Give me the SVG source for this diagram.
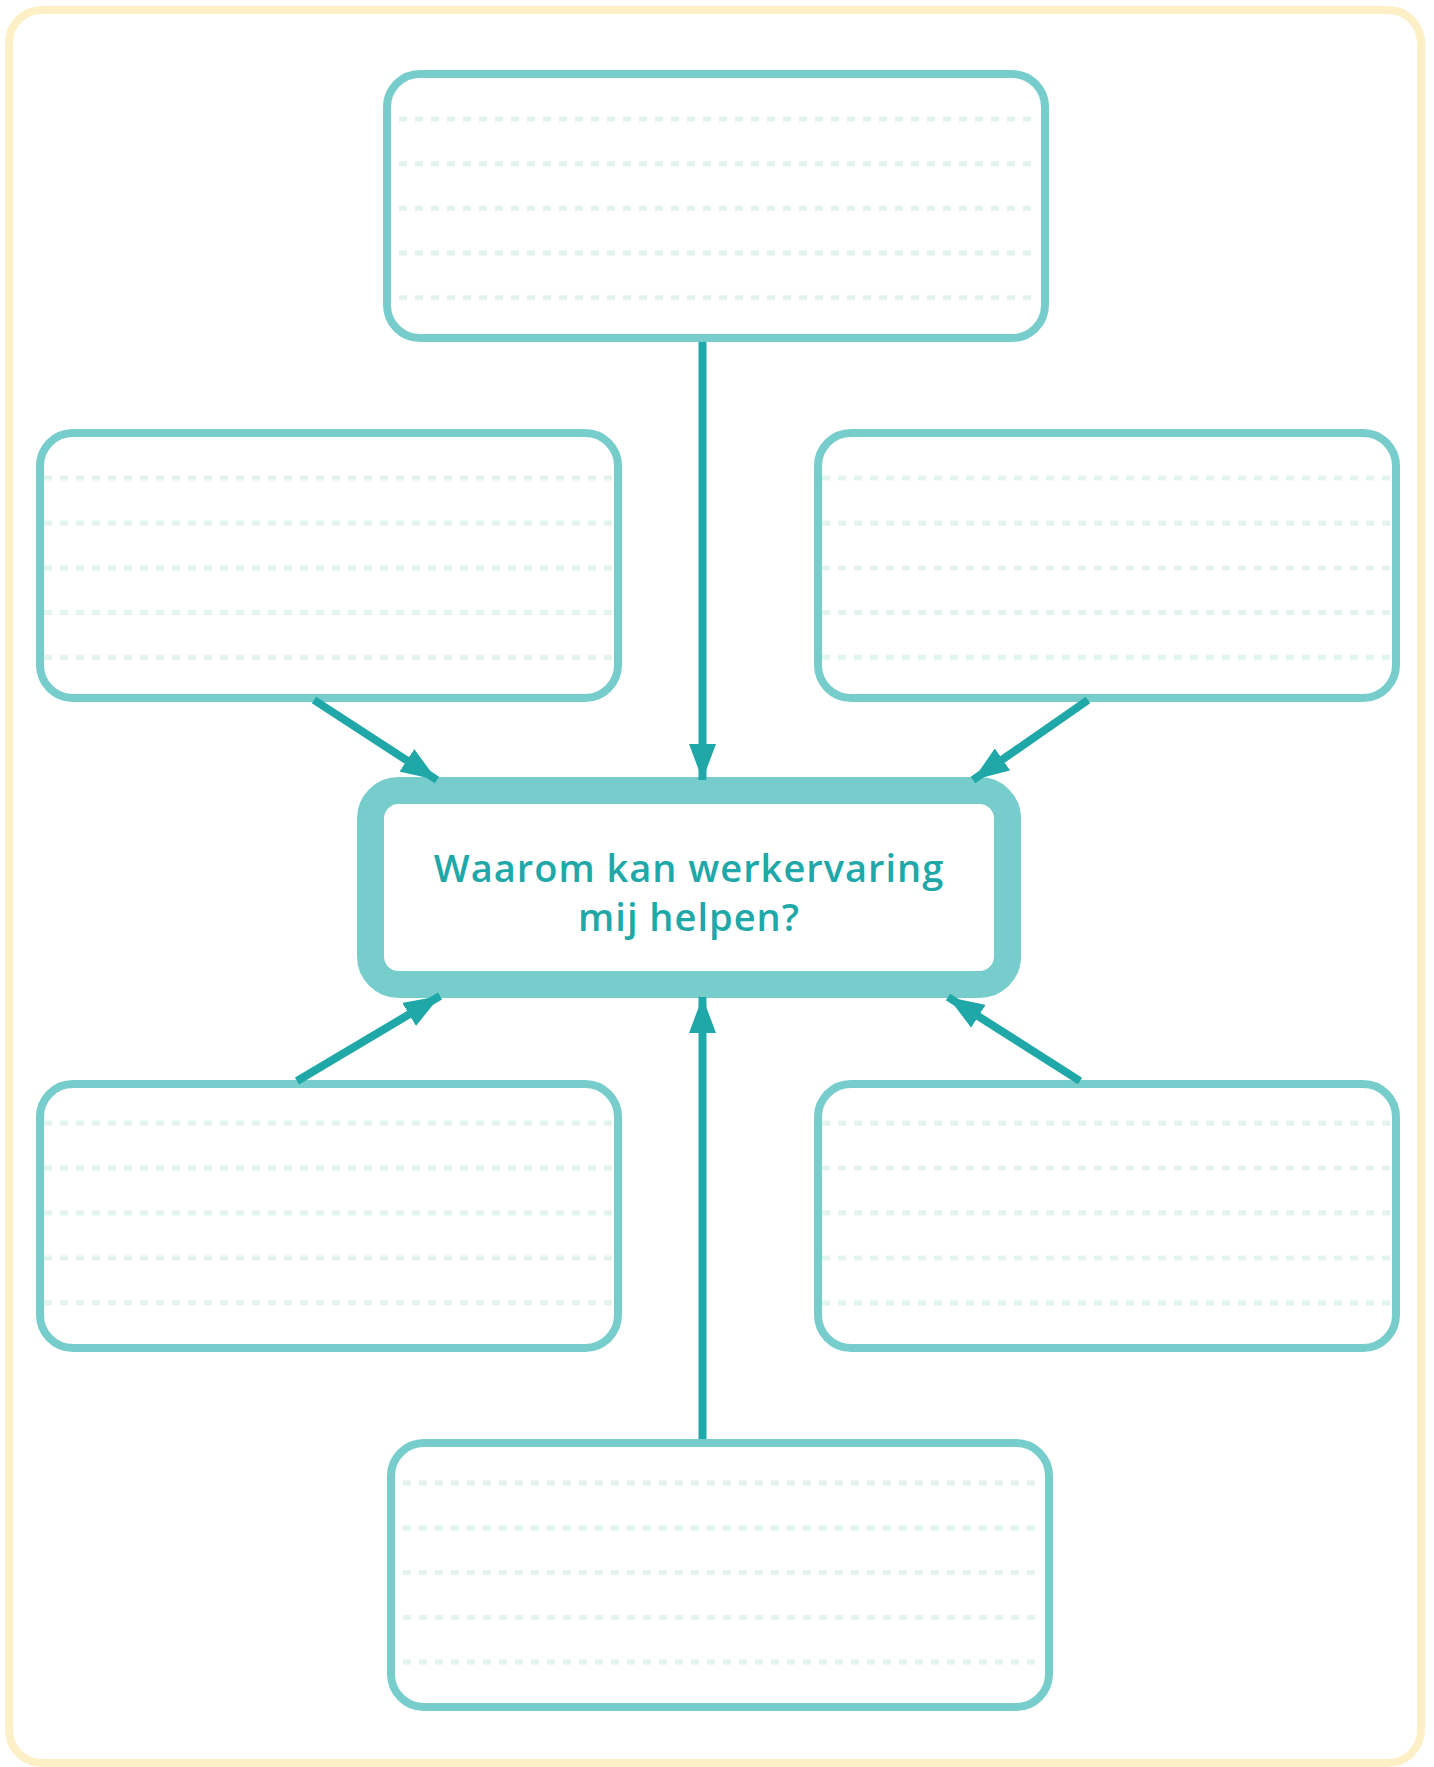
<svg xmlns="http://www.w3.org/2000/svg" width="1434" height="1767" viewBox="0 0 1434 1767">
<defs>
<style>
.frame{fill:#fff;stroke:#FDEFC6;stroke-width:8}
.box{fill:#fff;stroke:#76CDCC;stroke-width:8}
.center{fill:#fff;stroke:#76CDCC;stroke-width:27}
.dots{stroke:#E3F3ED;stroke-width:5;stroke-dasharray:8 8;fill:none}
.conn{stroke:#20A8A8;stroke-width:8;fill:none;marker-end:url(#arrow)}
.label{font-family:"Open Sans","DejaVu Sans",sans-serif;font-weight:600;font-size:38px;letter-spacing:1px;fill:#20A8A8;text-anchor:middle}
</style>
<marker id="arrow" markerUnits="userSpaceOnUse" viewBox="0 0 36 27" refX="36" refY="13.5" markerWidth="36" markerHeight="27" orient="auto">
<path d="M0,0 L36,13.5 L0,27 Z" fill="#20A8A8"/>
</marker>
</defs>
<rect class="frame" x="9" y="10" width="1412" height="1753" rx="33"/>

<g id="node-top">
<rect class="box" x="387" y="74" width="658" height="264" rx="33"/>
<path class="dots" d="M399,119H1037M399,163.7H1037M399,208.3H1037M399,253H1037M399,297.7H1037"/>
</g>
<g id="node-mid-left">
<rect class="box" x="40" y="433" width="578" height="265" rx="33"/>
<path class="dots" d="M44,478H612M44,523H612M44,568H612M44,612.5H612M44,657.3H612"/>
</g>
<g id="node-mid-right">
<rect class="box" x="818" y="433" width="578" height="265" rx="33"/>
<path class="dots" d="M822,478H1392M822,523H1392M822,568H1392M822,612.5H1392M822,657.3H1392"/>
</g>
<g id="node-bottom-left">
<rect class="box" x="40" y="1084" width="578" height="264" rx="33"/>
<path class="dots" d="M44,1123H612M44,1168H612M44,1213H612M44,1258H612M44,1303H612"/>
</g>
<g id="node-bottom-right">
<rect class="box" x="818" y="1084" width="578" height="264" rx="33"/>
<path class="dots" d="M822,1123H1392M822,1168H1392M822,1213H1392M822,1258H1392M822,1303H1392"/>
</g>
<g id="node-bottom">
<rect class="box" x="391" y="1443" width="658" height="264" rx="33"/>
<path class="dots" d="M403,1483H1041M403,1528H1041M403,1572.7H1041M403,1617.3H1041M403,1662H1041"/>
</g>
<g id="node-center">
<rect class="center" x="370.5" y="790.5" width="637" height="194" rx="28"/>
<text class="label" x="689" y="881.5">Waarom kan werkervaring</text>
<text class="label" x="689" y="930.5">mij helpen?</text>
</g>

<g id="connectors">
<line class="conn" x1="702.5" y1="342" x2="702.5" y2="780"/>
<line class="conn" x1="702.5" y1="1439" x2="702.5" y2="997"/>
<line class="conn" x1="314" y1="700" x2="437" y2="780"/>
<line class="conn" x1="1088" y1="700" x2="973" y2="780"/>
<line class="conn" x1="297" y1="1081" x2="440" y2="996"/>
<line class="conn" x1="1080" y1="1081" x2="948" y2="997"/>
</g>
</svg>
